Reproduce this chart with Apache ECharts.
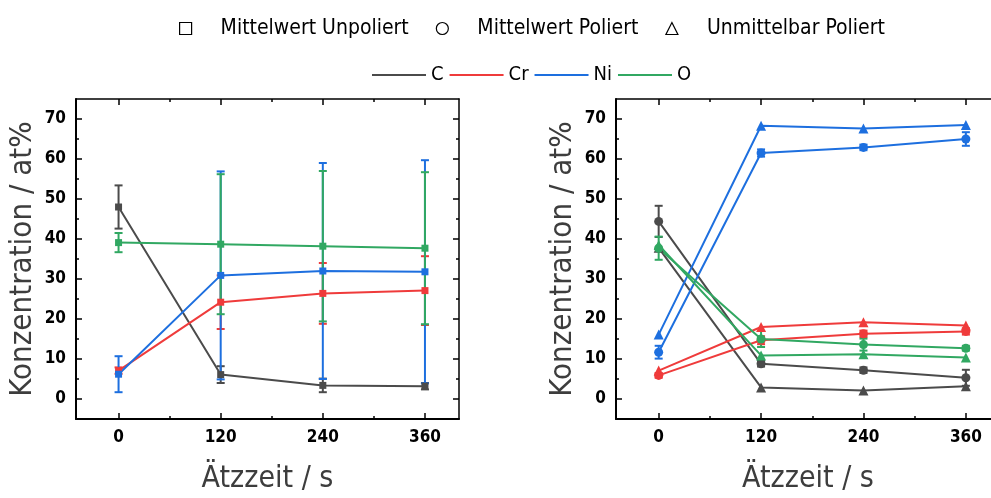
<!DOCTYPE html>
<html>
<head>
<meta charset="utf-8">
<title>Konzentration / Ätzzeit</title>
<script src="https://cdn.jsdelivr.net/npm/echarts@6.0.0/dist/echarts.min.js"></script>
<style>
  html, body { margin: 0; padding: 0; background: #fff; }
  #chart { width: 991px; height: 498px; }
</style>
</head>
<body>
<div id="chart"></div>
<script>
var FONT = "'DejaVu Sans Condensed', 'Liberation Sans Narrow', sans-serif";

// Ätzzeit in s
var times = [0, 120, 240, 360];
var elements = ['C', 'Cr', 'Ni', 'O'];
var colors = ['#4b4b4b', '#ef3b3b', '#1d6fdf', '#31a862'];
var majorX = [0, 120, 240, 360];
var minorX = [60, 180, 300];
var majorY = [0, 10, 20, 30, 40, 50, 60, 70];
var minorY = [5, 15, 25, 35, 45, 55, 65];

// links: Mittelwert Unpoliert (Quadrate)
var unpolC = [48.0, 6.1, 3.4, 3.2];
var unpolCErr = [5.4, 2.1, 1.7, 0.8];
var unpolCr = [7.1, 24.2, 26.4, 27.1];
var unpolCrErr = [0.8, 6.7, 7.6, 8.6];
var unpolNi = [6.2, 30.9, 32.0, 31.8];
var unpolNiErr = [4.5, 26.0, 27.0, 27.9];
var unpolO = [39.1, 38.7, 38.2, 37.7];
var unpolOErr = [2.4, 17.5, 18.8, 19.0];

// rechts: Mittelwert Poliert (Kreise)
var polC = [44.4, 8.8, 7.2, 5.3];
var polCErr = [3.9, 0.7, 0.7, 2.0];
var polCr = [5.9, 14.7, 16.3, 16.9];
var polCrErr = [0.6, 1.0, 0.8, 0.8];
var polNi = [11.7, 61.5, 62.9, 65.0];
var polNiErr = [1.6, 0.9, 0.7, 1.7];
var polO = [37.7, 15.0, 13.6, 12.7];
var polOErr = [2.9, 2.0, 1.5, 0.6];

// rechts: Unmittelbar Poliert (Dreiecke)
var triC = [37.8, 2.9, 2.1, 3.2];
var triCr = [7.1, 18.0, 19.2, 18.4];
var triNi = [16.1, 68.3, 67.6, 68.5];
var triO = [38.5, 10.9, 11.2, 10.4];

var unpolVals = [unpolC, unpolCr, unpolNi, unpolO];
var unpolErrs = [unpolCErr, unpolCrErr, unpolNiErr, unpolOErr];
var polVals = [polC, polCr, polNi, polO];
var polErrs = [polCErr, polCrErr, polNiErr, polOErr];
var triVals = [triC, triCr, triNi, triO];

var boxes = [
  {left: 76, top: 99, width: 383, height: 320},
  {left: 616, top: 99, width: 384, height: 320}
];

var chart = echarts.init(document.getElementById('chart'));

var grids = [], xAxes = [], yAxes = [];
boxes.forEach(function (b, p) {
  // rechter Rahmen des rechten Diagramms liegt ausserhalb des Bildes
  var rightVisible = b.left + b.width <= 991;
  [false, true].forEach(function (minor) {
    var g = grids.length;
    grids.push({left: b.left, top: b.top, width: b.width, height: b.height,
      containLabel: false, outerBoundsMode: 'none'});
    ['bottom', 'top'].forEach(function (pos) {
      var main = !minor && pos === 'bottom';
      xAxes.push({
        type: 'value', gridIndex: g, position: pos, min: -50, max: 400,
        axisLine: {show: !minor, onZero: false, lineStyle: {color: '#000', width: pos === 'bottom' ? 2 : 1.5}},
        axisTick: {show: true, inside: true, length: minor ? 3 : 6, customValues: minor ? minorX : majorX,
          lineStyle: {color: '#000', width: 1.5}},
        axisLabel: {show: main, customValues: majorX, margin: 10, color: '#000', fontSize: 17,
          fontWeight: 'bold', fontFamily: FONT},
        splitLine: {show: false},
        name: main ? 'Ätzzeit / s' : '',
        nameLocation: 'middle', nameGap: 45,
        nameTextStyle: {color: '#3d3d3d', fontSize: 30, fontFamily: FONT}
      });
    });
    ['left', 'right'].forEach(function (pos) {
      var main = !minor && pos === 'left';
      yAxes.push({
        type: 'value', gridIndex: g, position: pos, min: -5, max: 75,
        axisLine: {show: !minor && (pos === 'left' || rightVisible), onZero: false,
          lineStyle: {color: '#000', width: pos === 'left' ? 2 : 1.5}},
        axisTick: {show: pos === 'left' || rightVisible, inside: true, length: minor ? 3 : 6,
          customValues: minor ? minorY : majorY, lineStyle: {color: '#000', width: 1.5}},
        axisLabel: {show: main, customValues: majorY, margin: 10, color: '#000', fontSize: 17,
          fontWeight: 'bold', fontFamily: FONT},
        splitLine: {show: false},
        name: main ? 'Konzentration / at%' : '',
        nameLocation: 'middle', nameGap: 38,
        nameTextStyle: {color: '#3d3d3d', fontSize: 31, fontFamily: FONT}
      });
    });
  });
});

function errRenderer(color) {
  return function (params, api) {
    var x = api.value(0);
    var top = api.coord([x, api.value(2)]);
    var bot = api.coord([x, api.value(1)]);
    var w = 4;
    var st = {stroke: color, lineWidth: 2};
    return {
      type: 'group',
      children: [
        {type: 'line', shape: {x1: top[0], y1: top[1], x2: bot[0], y2: bot[1]}, style: st},
        {type: 'line', shape: {x1: top[0] - w, y1: top[1], x2: top[0] + w, y2: top[1]}, style: st},
        {type: 'line', shape: {x1: bot[0] - w, y1: bot[1], x2: bot[0] + w, y2: bot[1]}, style: st}
      ]
    };
  };
}

function pairs(vals) {
  return times.map(function (t, i) { return [t, vals[i]]; });
}
function errData(vals, errs) {
  return times.map(function (t, i) { return [t, vals[i] - errs[i], vals[i] + errs[i]]; });
}

var series = [];
function addLine(name, color, axis, vals, symbol, size) {
  series.push({
    name: name, type: 'line', xAxisIndex: axis, yAxisIndex: axis,
    data: pairs(vals), symbol: symbol, symbolSize: size, showSymbol: true,
    lineStyle: {color: color, width: 2}, itemStyle: {color: color},
    emphasis: {disabled: true}, z: 3
  });
}
function addErr(color, axis, vals, errs) {
  series.push({
    type: 'custom', xAxisIndex: axis, yAxisIndex: axis,
    renderItem: errRenderer(color), data: errData(vals, errs),
    encode: {x: 0, y: [1, 2]}, z: 2, silent: true
  });
}

// links
elements.forEach(function (el, k) {
  addLine(el, colors[k], 0, unpolVals[k], 'rect', 7);
});
// rechts
elements.forEach(function (el, k) {
  addLine(el, colors[k], 4, polVals[k], 'circle', 9);
  addLine(el, colors[k], 4, triVals[k], 'triangle', 10);
});
elements.forEach(function (el, k) {
  addErr(colors[k], 0, unpolVals[k], unpolErrs[k]);
  addErr(colors[k], 4, polVals[k], polErrs[k]);
});

// Legenden-Platzhalter für die Symbole
var symbolNames = ['Mittelwert Unpoliert', 'Mittelwert Poliert', 'Unmittelbar Poliert'];
var symbolIcons = ['rect', 'circle', 'triangle'];
symbolNames.forEach(function (n) {
  series.push({name: n, type: 'line', xAxisIndex: 0, yAxisIndex: 0, data: [], itemStyle: {color: '#000'}});
});

chart.setOption({
  animation: false,
  backgroundColor: '#fff',
  textStyle: {fontFamily: FONT},
  grid: grids,
  xAxis: xAxes,
  yAxis: yAxes,
  legend: [
    {
      left: 174, top: 13, itemWidth: 12, itemHeight: 12, itemGap: 27,
      selectedMode: false,
      data: symbolNames.map(function (n, i) {
        return {name: n, icon: symbolIcons[i],
          itemStyle: {color: '#fff', borderColor: '#000', borderWidth: 1.2}};
      }),
      textStyle: {color: '#000', fontSize: 21, fontFamily: FONT, padding: [0, 0, 0, 24]}
    },
    {
      left: 367, top: 60, itemWidth: 54, itemHeight: 2, itemGap: 6,
      selectedMode: false,
      data: elements.map(function (n) { return {name: n, icon: 'rect'}; }),
      textStyle: {color: '#000', fontSize: 20, fontFamily: FONT}
    }
  ],
  series: series
});
</script>
</body>
</html>
